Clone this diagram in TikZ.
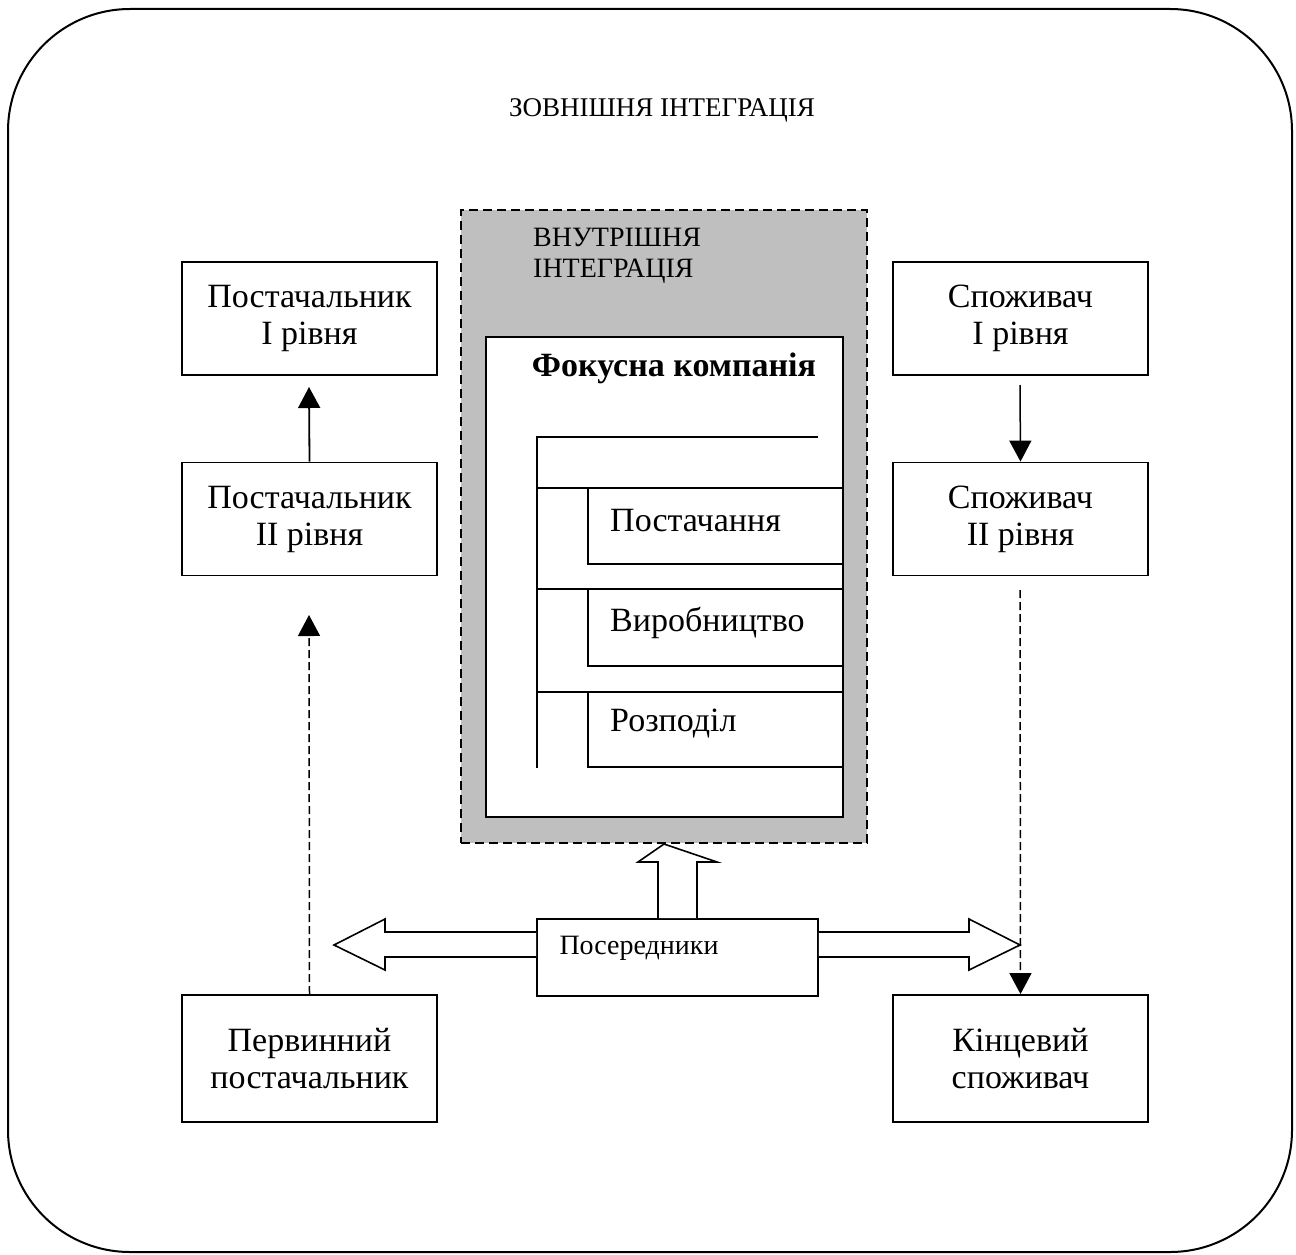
\documentclass[tikz,border=0pt]{standalone}
\usepackage{fontspec}
\setmainfont{Liberation Serif}
\usetikzlibrary{arrows.meta}
\begin{document}
\begin{tikzpicture}[x=1pt,y=-1pt,
  box/.style={draw,line width=1.8pt,minimum width=255pt,minimum height=113pt,align=center,
    font=\fontsize{34}{37}\selectfont,inner sep=0pt},
  thin/.style={line width=1.6pt},
  inlabel/.style={anchor=west,font=\fontsize{34}{38}\selectfont,inner sep=0pt},
  blockarrow/.style={draw,line width=1.6pt,fill=white,line join=miter},
  tip/.style={-{Triangle[length=21pt,width=22pt]}},
  dashline/.style={line width=1.5pt,dash pattern=on 8pt off 4pt}
]
\useasboundingbox (0,0) rectangle (1296,1255);
\draw[line width=2pt,rounded corners=122pt] (8,9) rectangle (1292,1252);
\node[font=\fontsize{27}{30}\selectfont] (title) at (662,110) {ЗОВНІШНЯ ІНТЕГРАЦІЯ};

% internal integration
\node[draw,line width=2pt,dash pattern=on 9pt off 5pt,fill=black!25,minimum width=406pt,minimum height=633pt,inner sep=0pt] (internal) at (664,526.5) {};
\node[anchor=base west,align=left,font=\fontsize{28}{31}\selectfont,inner sep=0pt] (intlabel) at (533,277) {ВНУТРІШНЯ\\ІНТЕГРАЦІЯ};
\node[draw,line width=1.8pt,fill=white,minimum width=357pt,minimum height=480pt,inner sep=0pt] (focal) at (664.5,577) {};
\node[font=\bfseries\fontsize{34}{38}\selectfont] (focallabel) at (674,368) {Фокусна компанія};

% bracket
\draw[thin] (818,437) -- (537,437) -- (537,768);
\draw[thin] (537,488) -- (843,488);
\draw[thin] (537,589) -- (843,589);
\draw[thin] (537,692) -- (843,692);
\draw[thin] (843,488) -- (588,488) -- (588,564) -- (843,564);
\draw[thin] (843,589) -- (588,589) -- (588,666) -- (843,666);
\draw[thin] (843,692) -- (588,692) -- (588,767) -- (843,767);
\node[inlabel] (supply) at (610,521) {Постачання};
\node[inlabel] (prod) at (610,623) {Виробництво};
\node[inlabel] (distr) at (610,724) {Розподіл};

% side boxes
\node[box] (s1) at (309.5,318.5) {Постачальник\\I рівня};
\node[box] (s2) at (309.5,519) {Постачальник\\II рівня};
\node[box,minimum height=127pt] (s0) at (309.5,1058.5) {Первинний\\постачальник};
\node[box] (c1) at (1020.5,318.5) {Споживач\\I рівня};
\node[box] (c2) at (1020.5,519) {Споживач\\II рівня};
\node[box,minimum height=127pt] (c0) at (1020.5,1058.5) {Кінцевий\\споживач};

% arrows
\coordinate (s1tip) at (309,387);
\draw[line width=1.8pt,tip] (s2.north) -- (s1tip);
\coordinate (c1start) at (1020,385);
\draw[line width=1.5pt,tip] (c1start) -- (c2.north);
\coordinate (s2tip) at (309,615);
\draw[dashline,tip] (s0.north) -- (s2tip);
\coordinate (c2start) at (1020,590);
\draw[dashline,tip] (c2start) -- (c0.north);

% intermediaries
\node[draw,line width=1.8pt,minimum width=281pt,minimum height=77pt,inner sep=0pt] (mid) at (677.5,957.5) {};
\node[font=\fontsize{28}{30}\selectfont,inner sep=0pt] (midlabel) at (639,948) {Посередники};

% block arrows
\draw[blockarrow] (mid.west |- 0,932) -- (385,932) -- (385,919) -- (334,945) -- (385,970) -- (385,957) -- (mid.west |- 0,957);
\draw[blockarrow] (mid.east |- 0,932) -- (969,932) -- (969,919) -- (1020,945) -- (969,970) -- (969,957) -- (mid.east |- 0,957);
\draw[blockarrow] (658,0 |- mid.north) -- (658,862) -- (638,862) -- (internal.south) -- (717,862) -- (697,862) -- (697,0 |- mid.north);
\end{tikzpicture}
\end{document}
